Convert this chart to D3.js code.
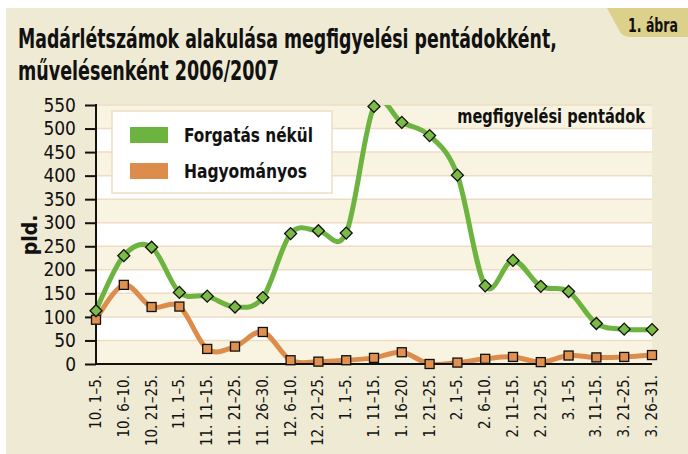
<!DOCTYPE html>
<html>
<head>
<meta charset="utf-8">
<script src="https://cdn.jsdelivr.net/npm/d3@7"></script>
<style>
  body { margin: 0; background: #fff; }
  text { font-family: "Liberation Sans Narrow", "DejaVu Sans Condensed", "Arial Narrow", sans-serif; fill: #111; }
</style>
</head>
<body>
<div id="chart"></div>
<script>
var periods = ["10. 1–5.", "10. 6–10.", "10. 21–25.", "11. 1–5.", "11. 11–15.", "11. 21–25.", "11. 26–30.",
  "12. 6–10.", "12. 21–25.", "1. 1–5.", "1. 11–15.", "1. 16–20.", "1. 21–25.", "2. 1–5.", "2. 6–10.",
  "2. 11–15.", "2. 21–25.", "3. 1–5.", "3. 11–15.", "3. 21–25.", "3. 26–31."];
var forgatasNelkul = [113, 230, 248, 152, 144, 121, 141, 277, 283, 278, 547, 513, 485, 401, 166, 220, 165, 154, 86, 74, 73];
var hagyomanyos = [94, 168, 121, 122, 32, 37, 68, 8, 5, 8, 13, 25, 0, 3, 11, 15, 4, 18, 14, 15, 19];
var yTicks = d3.range(0, 551, 50);

var width = 688, height = 454;
var plot = {left: 96, right: 652, top: 105, bottom: 364};

var svg = d3.select("#chart").append("svg")
    .attr("width", width)
    .attr("height", height);

// squeeze a text horizontally so it takes the given width (condensed look)
function condensed(px, py, size, w, anchor, str) {
  var t = svg.append("text")
      .attr("text-anchor", anchor || "start")
      .attr("font-weight", 700)
      .style("font-size", size + "px")
      .text(str);
  var len = t.node().getComputedTextLength();
  t.attr("transform", "translate(" + px + "," + py + ") scale(" + Math.min(1, w / len) + ",1)");
  return t;
}

// cream panel
svg.append("rect")
    .attr("x", 6).attr("y", 8)
    .attr("width", width - 6).attr("height", height - 8)
    .attr("fill", "#efead4");

// "1. ábra" tab
svg.append("path")
    .attr("d", "M607,8 L688,8 L688,37 L630,37 Q622,37 619,30 Z")
    .attr("fill", "#ddd08b");
condensed(678, 32, 19, 50, "end", "1. ábra");

// title
condensed(18, 48, 26, 539, "start", "Madárlétszámok alakulása megfigyelési pentádokként,");
condensed(18, 80, 26, 261, "start", "művelésenként 2006/2007");

var x = d3.scalePoint()
    .domain(periods)
    .range([plot.left, plot.right]);

var y = d3.scaleLinear()
    .domain([0, 550])
    .range([plot.bottom, plot.top]);

// bands and grid
var bands = yTicks.slice(0, -1);
svg.append("g").selectAll("rect")
  .data(bands)
  .enter().append("rect")
    .attr("x", plot.left)
    .attr("y", function(d) { return y(d + 50); })
    .attr("width", plot.right - plot.left)
    .attr("height", function(d) { return y(d) - y(d + 50); })
    .attr("fill", function(d, i) { return i % 2 == 0 ? "#f8f4e1" : "#ffffff"; });

svg.append("g").selectAll("line")
  .data(yTicks.slice(1))
  .enter().append("line")
    .attr("x1", plot.left).attr("x2", plot.right)
    .attr("y1", function(d) { return y(d); })
    .attr("y2", function(d) { return y(d); })
    .attr("stroke", "#efdcc4")
    .attr("stroke-width", 1.5);

// clip for the smoothed lines
svg.append("clipPath").attr("id", "plotclip")
  .append("rect")
    .attr("x", plot.left).attr("y", plot.top)
    .attr("width", plot.right - plot.left + 4)
    .attr("height", plot.bottom - plot.top);

var line = d3.line()
    .x(function(d, i) { return x(periods[i]); })
    .y(function(d) { return y(d); })
    .curve(d3.curveCardinal.tension(0));

svg.append("path")
    .datum(hagyomanyos)
    .attr("clip-path", "url(#plotclip)")
    .attr("fill", "none")
    .attr("stroke", "#dc8d4c")
    .attr("stroke-width", 5)
    .attr("d", line);

svg.append("path")
    .datum(forgatasNelkul)
    .attr("clip-path", "url(#plotclip)")
    .attr("fill", "none")
    .attr("stroke", "#6db33f")
    .attr("stroke-width", 5)
    .attr("d", line);

// axes
var yAxis = svg.append("g")
    .attr("transform", "translate(" + plot.left + ",0)")
    .call(d3.axisLeft(y).tickValues(yTicks).tickSize(11).tickPadding(9));
yAxis.select(".domain").remove();
yAxis.selectAll(".tick line").attr("stroke", "#111").attr("stroke-width", 2);
yAxis.selectAll(".tick text")
    .attr("fill", "#111")
    .style("font-size", "19px")
    .style("font-family", "\"Liberation Sans Narrow\", \"DejaVu Sans Condensed\", sans-serif");

svg.append("line")
    .attr("x1", plot.left).attr("x2", plot.left)
    .attr("y1", plot.top - 1).attr("y2", plot.bottom + 1)
    .attr("stroke", "#111").attr("stroke-width", 2);
svg.append("line")
    .attr("x1", plot.left - 1).attr("x2", plot.right)
    .attr("y1", plot.bottom).attr("y2", plot.bottom)
    .attr("stroke", "#111").attr("stroke-width", 2);

svg.append("g").selectAll("text")
  .data(periods)
  .enter().append("text")
    .attr("transform", function(d) { return "translate(" + (x(d) + 5) + ",375) rotate(-90)"; })
    .attr("text-anchor", "end")
    .style("font-size", "15px")
    .text(function(d) { return d; });

svg.append("text")
    .attr("transform", "translate(37,235) rotate(-90)")
    .attr("text-anchor", "middle")
    .attr("font-weight", 700)
    .style("font-size", "21px")
    .text("pld.");

// markers
svg.append("g").selectAll("rect")
  .data(hagyomanyos)
  .enter().append("rect")
    .attr("x", function(d, i) { return x(periods[i]) - 4.5; })
    .attr("y", function(d) { return y(d) - 4.5; })
    .attr("width", 9).attr("height", 9)
    .attr("fill", "#e0914f")
    .attr("stroke", "#111")
    .attr("stroke-width", 1.3);

svg.append("g").selectAll("path")
  .data(forgatasNelkul)
  .enter().append("path")
    .attr("transform", function(d, i) { return "translate(" + x(periods[i]) + "," + y(d) + ") rotate(45)"; })
    .attr("d", d3.symbol().type(d3.symbolSquare).size(72))
    .attr("fill", "#7aba45")
    .attr("stroke", "#111")
    .attr("stroke-width", 1.3);

// legend
svg.append("rect")
    .attr("x", 112).attr("y", 111)
    .attr("width", 220).attr("height", 82)
    .attr("fill", "#ffffff")
    .attr("stroke", "#efdcc4")
    .attr("stroke-width", 1.5);
var legendNames = ["Forgatás nékül", "Hagyományos"];
var legendColors = ["#6db33f", "#dc8d4c"];
var legendWidths = [129, 123];
legendNames.forEach(function(name, i) {
  svg.append("rect")
      .attr("x", 130)
      .attr("y", 127 + i * 36)
      .attr("width", 38).attr("height", 16)
      .attr("fill", legendColors[i]);
  condensed(184, 142 + i * 36, 20, legendWidths[i], "start", name);
});

condensed(645, 123, 19, 188, "end", "megfigyelési pentádok");
</script>
</body>
</html>
